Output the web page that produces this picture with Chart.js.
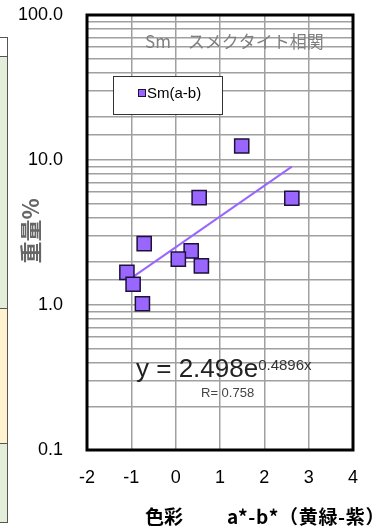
<!DOCTYPE html>
<html lang="ja">
<head>
<meta charset="UTF-8">
<title>Sm スメクタイト相関</title>
<script src="https://cdn.jsdelivr.net/npm/chart.js"></script>
<style>
  html, body { margin: 0; padding: 0; background: #fff; }
</style>
</head>
<body>
<canvas id="smChart" width="386" height="530"></canvas>
<script>
// 色彩 a*-b* と Sm 重量%（読み取り値）
const colorAB  = [1.49, 0.53, 2.62, -0.71, 0.35, 0.06, 0.58, -1.10, -0.96, -0.75];
const smWeight = [12.5, 5.5, 5.45, 2.65, 2.36, 2.07, 1.86, 1.68, 1.39, 1.02];

// 近似曲線（指数）の両端
const trendX = [-1.10, 2.62];
const trendY = [1.46, 9.0];

const xTicks = [-2, -1, 0, 1, 2, 3, 4];
const yDecades = [0.1, 1, 10, 100];

const seriesName = 'Sm(a-b)';
const chartTitle = 'Sm　スメクタイト相関';
const eqMain = 'y = 2.498e';
const eqExp = '0.4896x';
const rText = 'R= 0.758';
const yTitle = '重量%';
const xTitle1 = '色彩';
const xTitle2 = 'a*-b*（黄緑-紫）';

const LAT = "'Liberation Sans', 'Noto Sans CJK JP', sans-serif";
const JP = "'Noto Sans CJK JP', 'Liberation Sans', sans-serif";
const PURPLE = '#9966ff';
const DARK = '#1e1238';

// 左端に見える隣の表の一部
const sidePanel = {
  id: 'sidePanel',
  beforeDraw(chart) {
    const ctx = chart.ctx;
    ctx.save();
    ctx.fillStyle = '#fff';
    ctx.fillRect(0, 0, chart.width, chart.height);
    const bands = [[37, 56, '#ffffff'], [56, 308, '#e4efdb'], [308, 443, '#fff2cf'], [443, 522, '#e4efdb']];
    bands.forEach(b => {
      ctx.fillStyle = b[2];
      ctx.fillRect(0, b[0], 8, b[1] - b[0]);
      ctx.strokeStyle = '#555';
      ctx.lineWidth = 1;
      ctx.strokeRect(-1.5, b[0] + 0.5, 9, b[1] - b[0]);
    });
    ctx.restore();
  }
};

// 枠、タイトル、凡例、近似式、軸ラベル
const decorations = {
  id: 'decorations',
  afterDraw(chart) {
    const ctx = chart.ctx;
    const a = chart.chartArea;
    ctx.save();

    ctx.strokeStyle = '#000';
    ctx.lineWidth = 3;
    ctx.strokeRect(a.left, a.top, a.right - a.left, a.bottom - a.top);

    ctx.textBaseline = 'middle';
    ctx.textAlign = 'left';
    ctx.fillStyle = '#808080';
    ctx.font = '17px ' + JP;
    ctx.fillText(chartTitle, 145, 42);

    // 凡例
    ctx.fillStyle = '#fff';
    ctx.fillRect(113, 76, 109, 38);
    ctx.strokeStyle = '#333';
    ctx.lineWidth = 1;
    ctx.strokeRect(113.5, 76.5, 109, 38);
    ctx.fillStyle = PURPLE;
    ctx.fillRect(138, 89, 8, 8);
    ctx.strokeStyle = DARK;
    ctx.strokeRect(138.5, 89.5, 7, 7);
    ctx.fillStyle = '#000';
    ctx.font = '15px ' + LAT;
    ctx.fillText(seriesName, 147, 94);

    // 近似式
    ctx.textBaseline = 'alphabetic';
    ctx.fillStyle = '#222';
    ctx.font = '26px ' + LAT;
    ctx.fillText(eqMain, 136, 377);
    const w = ctx.measureText(eqMain).width;
    ctx.fillStyle = '#333';
    ctx.font = '15px ' + LAT;
    ctx.fillText(eqExp, 136 + w, 370);
    ctx.fillStyle = '#444';
    ctx.font = '13px ' + LAT;
    ctx.fillText(rText, 201, 397);

    // 軸ラベル
    ctx.fillStyle = '#000';
    ctx.font = 'bold 19px ' + JP;
    ctx.textBaseline = 'middle';
    ctx.fillText(xTitle1, 145, 517);
    ctx.letterSpacing = '0.7px';
    ctx.fillText(xTitle2, 227, 517);
    ctx.letterSpacing = '0px';

    ctx.translate(31, 231);
    ctx.rotate(-Math.PI / 2);
    ctx.textAlign = 'center';
    ctx.fillStyle = '#666';
    ctx.font = 'bold 22px ' + JP;
    ctx.fillText(yTitle, 0, 0);

    ctx.restore();
  }
};

const isDecade = v => Math.abs(Math.log10(v) - Math.round(Math.log10(v))) < 1e-6;

new Chart(document.getElementById('smChart'), {
  type: 'scatter',
  data: {
    datasets: [
      {
        label: seriesName,
        data: colorAB.map((x, i) => ({ x: x, y: smWeight[i] })),
        pointStyle: 'rect',
        pointRadius: 10,
        backgroundColor: PURPLE,
        borderColor: DARK,
        borderWidth: 1.5,
        order: 0
      },
      {
        label: 'trend',
        type: 'line',
        data: trendX.map((x, i) => ({ x: x, y: trendY[i] })),
        borderColor: PURPLE,
        borderWidth: 2,
        pointRadius: 0,
        fill: false,
        order: 1
      }
    ]
  },
  options: {
    responsive: false,
    animation: false,
    devicePixelRatio: 1,
    layout: { padding: { top: 15, right: 33, left: 0, bottom: 0 } },
    plugins: {
      legend: { display: false },
      tooltip: { enabled: false },
      title: { display: false }
    },
    scales: {
      x: {
        type: 'linear',
        min: -2,
        max: 4,
        afterFit: s => { s.height = 80; s.paddingLeft = 0; s.paddingRight = 0; },
        afterBuildTicks: s => { s.ticks = xTicks.map(v => ({ value: v })); },
        grid: { color: '#a0a0a0', lineWidth: 1.5, drawTicks: false },
        border: { display: false },
        ticks: {
          padding: 17,
          color: '#000',
          font: { family: LAT, size: 18 }
        }
      },
      y: {
        type: 'logarithmic',
        min: 0.1,
        max: 100,
        afterFit: s => { s.width = 87; s.paddingTop = 0; s.paddingBottom = 0; },
        grid: { color: '#a0a0a0', lineWidth: 1.5, drawTicks: false },
        border: { display: false },
        ticks: {
          autoSkip: false,
          padding: 24,
          color: '#000',
          font: { family: LAT, size: 18 },
          callback: v => isDecade(v) ? v.toFixed(1) : ''
        }
      }
    }
  },
  plugins: [sidePanel, decorations]
});
</script>
</body>
</html>
